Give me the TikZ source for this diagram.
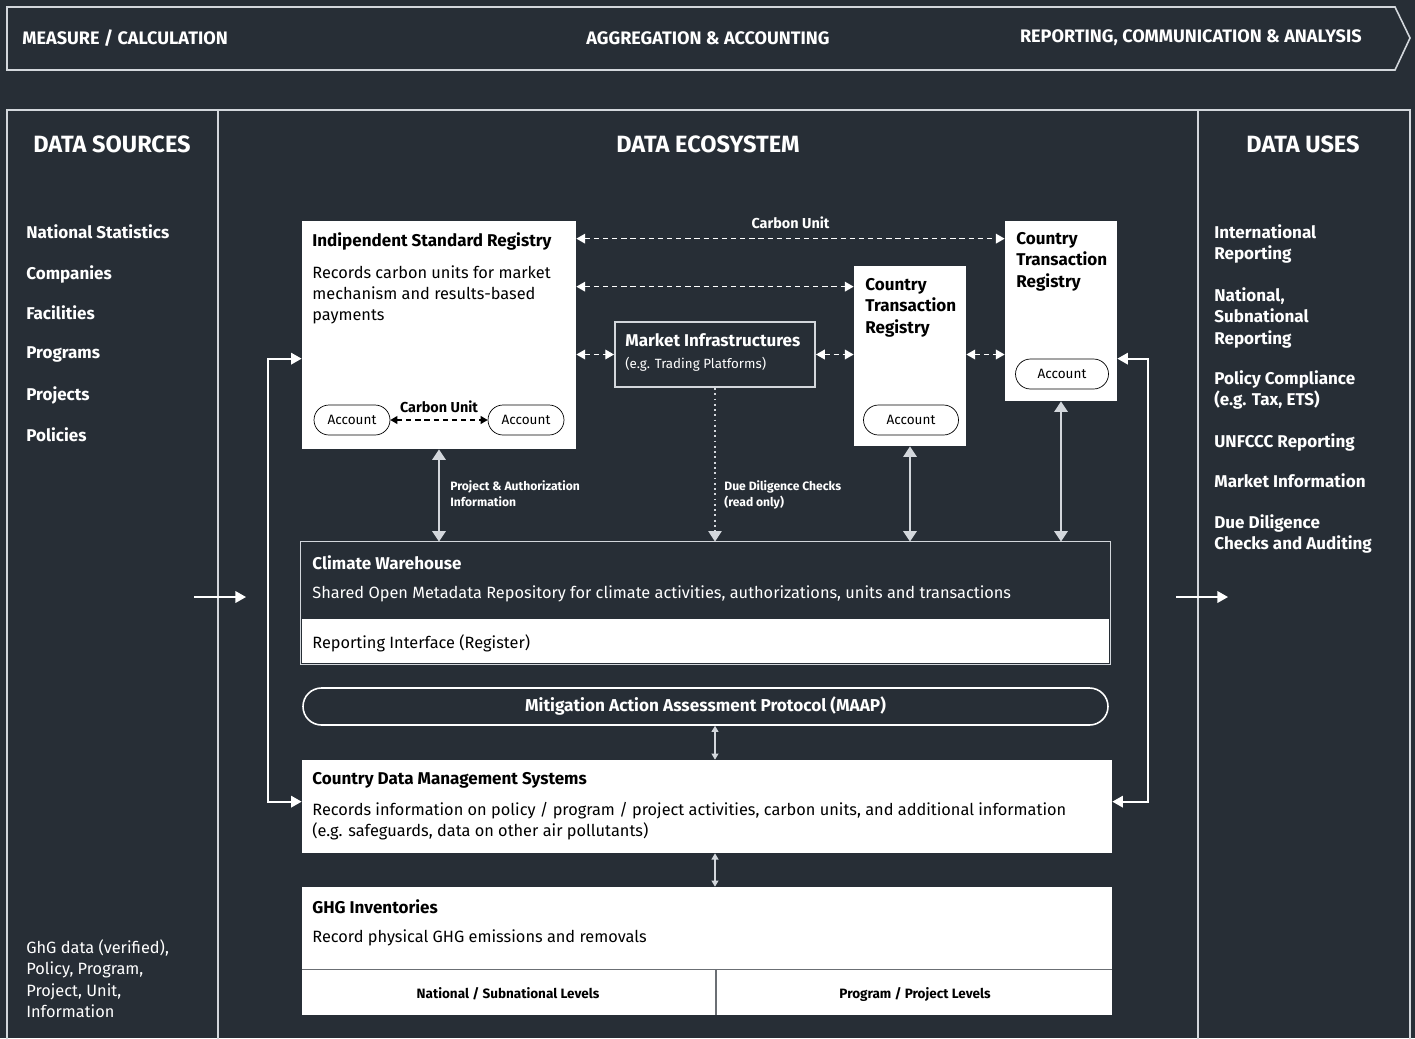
\documentclass[tikz,border=0pt]{standalone}
\usepackage{fontspec}
\setmainfont{Fira Sans}
\usetikzlibrary{arrows.meta, positioning, calc, fit}
\definecolor{bgdark}{HTML}{272E36}
\definecolor{linegray}{HTML}{D3D7DC}
\definecolor{rulegray}{HTML}{6B6F74}

\begin{document}
\begin{tikzpicture}[
  x=0.02cm, y=-0.02cm,
  every node/.style={inner sep=0pt},
  hdr/.style={text=white, font=\fontsize{13.4}{16}\selectfont\bfseries},
  band/.style={text=white, font=\fontsize{10.3}{12}\selectfont\bfseries},
  item/.style={text=white, anchor=north west, align=left, font=\fontsize{9.7}{12.2}\selectfont\bfseries},
  ttl/.style={anchor=north west, align=left, font=\fontsize{9.7}{12.2}\selectfont\bfseries},
  body/.style={anchor=north west, align=left, font=\fontsize{9.3}{12.2}\selectfont},
  note/.style={text=white, anchor=north west, align=left, font=\fontsize{6.9}{9}\selectfont\bfseries},
  panel/.style={fill=white, inner sep=0pt},
  acct/.style={draw=black, fill=white, rounded corners=0.3cm, minimum width=1.52cm,
    minimum height=0.6cm, font=\fontsize{7.7}{9}\selectfont},
  dasharrow/.style={white, dash pattern=on 3pt off 2.2pt, line width=0.8pt,
    {Triangle[length=5pt,width=5.5pt]}-{Triangle[length=5pt,width=5.5pt]}},
  looparrow/.style={white, line width=1.1pt,
    {Triangle[length=6pt,width=6.5pt]}-{Triangle[length=6pt,width=6.5pt]}},
  vertarrow/.style={linegray, line width=1.4pt,
    {Triangle[length=6pt,width=7.5pt]}-{Triangle[length=6pt,width=7.5pt]}},
  thinarrow/.style={linegray, line width=0.6pt,
    {Triangle[length=3.5pt,width=4pt]}-{Triangle[length=3.5pt,width=4pt]}},
  flowarrow/.style={white, line width=1.1pt, -{Triangle[length=6pt,width=6.5pt]}}
]

% background and frames
\fill[bgdark] (0,0) rectangle (1415,1038);
\useasboundingbox (0,0) rectangle (1415,1038);
\draw[linegray, line width=0.9pt] (7,7) -- (1395,7) -- (1410,38) -- (1395,70) -- (7,70) -- cycle;
\draw[linegray, line width=0.9pt] (7,1045) -- (7,110) -- (1410,110) -- (1410,1045);
\draw[linegray, line width=0.9pt] (218,110) -- (218,1045) (1198,110) -- (1198,1045);

% banner
\node[band, anchor=west] (measure) at (22,38) {MEASURE / CALCULATION};
\node[band] (aggr) at (708,38) {AGGREGATION \& ACCOUNTING};
\node[band, anchor=east] (report) at (1362,38) {REPORTING, COMMUNICATION \& ANALYSIS};

% column heads
\node[hdr] (srcH) at (112,144) {DATA SOURCES};
\node[hdr] (ecoH) at (708,144) {DATA ECOSYSTEM};
\node[hdr] (useH) at (1303,144) {DATA USES};

% data sources
\node[item] (s1) at (26,224) {National Statistics};
\node[item] (s2) at (26,265) {Companies};
\node[item] (s3) at (26,305) {Facilities};
\node[item] (s4) at (26,346) {Programs};
\node[item] (s5) at (26,386) {Projects};
\node[item] (s6) at (26,427) {Policies};
\node[body, text=white] (sdata) at (26,939) {GhG data (verified),\\Policy, Program,\\Project, Unit,\\Information};

% data uses
\node[item] (u1) at (1214,224) {International\\Reporting};
\node[item] (u2) at (1214,287) {National,\\Subnational\\Reporting};
\node[item] (u3) at (1214,370) {Policy Compliance\\(e.g. Tax, ETS)};
\node[item] (u4) at (1214,433) {UNFCCC Reporting};
\node[item] (u5) at (1214,473) {Market Information};
\node[item] (u6) at (1214,514) {Due Diligence\\Checks and Auditing};

% flow arrows between columns
\coordinate (inA) at (194,597);
\coordinate (inB) at (246,597);
\coordinate (outA) at (1176,597);
\coordinate (outB) at (1228,597);
\draw[flowarrow] (inA) -- (inB);
\draw[flowarrow] (outA) -- (outB);

% registries
\node[panel, fit={(302,221)(576,449)}] (isr) {};
\node[ttl] (isrT) at (312,232) {Indipendent Standard Registry};
\node[body] (isrB) at (312,265) {Records carbon units for market\\mechanism and results-based\\payments};
\node[acct] (accA) at (352,420) {Account};
\node[acct] (accB) at (526,420) {Account};
\draw[black, dash pattern=on 3pt off 2.2pt, line width=0.7pt,
  {Triangle[length=4pt,width=4.5pt]}-{Triangle[length=4pt,width=4.5pt]}]
  (accA) -- node[above=4pt, font=\fontsize{8.2}{9}\selectfont\bfseries] (cuA) {Carbon Unit} (accB);

\node[panel, fit={(854,266)(966,446)}] (ctrA) {};
\node[ttl] (ctrAT) at (865,278) {Country\\Transaction\\Registry};
\node[acct, minimum width=1.9cm] (accC) at (911,420) {Account};

\node[panel, fit={(1005,221)(1117,401)}] (ctrB) {};
\node[ttl] (ctrBT) at (1016,232) {Country\\Transaction\\Registry};
\node[acct, minimum width=1.86cm] (accD) at (1062,374) {Account};

\node[draw=linegray, line width=1.1pt, fit={(615,322)(815,387)}] (mkt) {};
\node[ttl, text=white] (mktT) at (625,333) {Market Infrastructures};
\node[body, text=white, font=\fontsize{7.6}{9}\selectfont] (mktB) at (625,357) {(e.g. Trading Platforms)};

% dashed exchanges
\coordinate (cuL) at ($(isr.north east)+(0,18)$);
\coordinate (ctL) at ($(isr.north east)+(0,66)$);
\draw[dasharrow] (cuL) -- node[above=5pt, font=\fontsize{8.2}{9}\selectfont\bfseries, text=white] (cuB) {Carbon Unit} (cuL -| ctrB.west);
\draw[dasharrow] (ctL) -- (ctL -| ctrA.west);
\draw[dasharrow] (isr.east |- mkt.west) -- (mkt.west);
\draw[dasharrow] (mkt.east) -- (mkt.east -| ctrA.west);
\draw[dasharrow] (ctrA.east |- mkt.east) -- (ctrB.west |- mkt.east);

% climate warehouse
\node[fit={(301,542)(1110,664)}] (cw) {};
\node[panel, fit={(302,619)(1109,663)}] (cwint) {};
\draw[linegray, line width=0.9pt] (cw.north west) rectangle (cw.south east);
\node[ttl, text=white] (cwT) at (312,555) {Climate Warehouse};
\node[body, text=white] (cwB) at (312,585) {Shared Open Metadata Repository for climate activities, authorizations, units and transactions};
\node[body] (cwI) at (312,634) {Reporting Interface (Register)};

% links into the warehouse
\draw[vertarrow] (isr.south) -- (isr.south |- cw.north);
\draw[vertarrow] (ctrA.south) -- (ctrA.south |- cw.north);
\draw[vertarrow] (ctrB.south) -- (ctrB.south |- cw.north);
\draw[linegray, line width=1pt, dotted, -{Triangle[length=6pt,width=7.5pt]}] (mkt.south) -- (mkt.south |- cw.north);
\node[note] (authN) at (450,480) {Project \& Authorization\\Information};
\node[note] (ddN) at (724,480) {Due Diligence Checks\\(read only)};

% MAAP
\node[draw=white, line width=0.9pt, rounded corners=0.37cm, fit={(303,688)(1108,725)}] (maap) {};
\node[text=white, font=\fontsize{9.8}{11}\selectfont\bfseries] (maapT) at (maap.center) {Mitigation Action Assessment Protocol (MAAP)};

% country data management
\node[panel, fit={(302,760)(1112,853)}] (cdms) {};
\node[ttl] (cdmsT) at (312,772) {Country Data Management Systems};
\node[body] (cdmsB) at (312,802) {Records information on policy / program / project activities, carbon units, and additional information\\(e.g. safeguards, data on other air pollutants)};
\draw[thinarrow] (mkt.south |- maap.south) -- (mkt.south |- cdms.north);

% GHG inventories
\node[panel, fit={(302,887)(1112,1015)}] (ghg) {};
\node[ttl] (ghgT) at (312,899) {GHG Inventories};
\node[body] (ghgB) at (312,929) {Record physical GHG emissions and removals};
\coordinate (ghgL) at ($(ghg.north west)+(0,83)$);
\coordinate (ghgM) at (716,970);
\draw[rulegray, line width=0.8pt] (ghgL) -- (ghgL -| ghg.east);
\draw[rulegray, line width=0.8pt] (ghgM) -- (ghgM |- ghg.south);
\node[font=\fontsize{7.7}{9}\selectfont\bfseries] (natL) at (508,994) {National / Subnational Levels};
\node[font=\fontsize{7.7}{9}\selectfont\bfseries] (prgL) at (915,994) {Program / Project Levels};
\draw[thinarrow] (mkt.south |- cdms.south) -- (mkt.south |- ghg.north);

% feedback loops
\coordinate (isrIn) at ($(isr.north west)+(0,138)$);
\coordinate (cdmsInL) at ($(cdms.north west)+(0,42)$);
\coordinate (ctrIn) at ($(ctrB.north east)+(0,138)$);
\coordinate (cdmsInR) at ($(cdms.north east)+(0,42)$);
\draw[looparrow] (isrIn) -- ++(-34,0) |- (cdmsInL);
\draw[looparrow] (ctrIn) -- ++(31,0) |- (cdmsInR);

\end{tikzpicture}
\end{document}
